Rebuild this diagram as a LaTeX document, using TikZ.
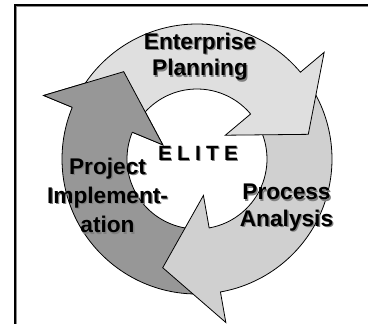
\documentclass[tikz,border=0pt]{standalone}
\usepackage{fontspec}
\setmainfont{Liberation Sans}
\usepackage{tikz}
\usetikzlibrary{positioning}

\definecolor{planfill}{HTML}{DFDFDF}
\definecolor{procfill}{HTML}{D0D0D0}
\definecolor{implfill}{HTML}{979797}

% curved ring arrow: fill, tail angle, head angle
\newcommand{\cyclearrow}[3]{%
  \draw[ringarrow, fill=#1] (#2:135) arc[start angle=#2, end angle=#3, radius=135]
    -- (#3:166) -- ({#3+27.5}:114) -- (#3:37) -- (#3:70)
    arc[start angle=#3, end angle=#2, radius=70] -- cycle;}
% head only, drawn again on top
\newcommand{\cyclehead}[2]{%
  \draw[ringarrow, fill=#1] (#2:135) -- (#2:166) -- ({#2+27.5}:114) -- (#2:37) -- (#2:70);}
\newcommand{\elitename}{E\kern4pt L\kern4pt I\kern4pt T\kern4pt E}

\begin{document}
\begin{tikzpicture}[x=0.75pt,y=0.75pt,yscale=-1,xscale=1,
    ringarrow/.style={draw=black, line width=0.6pt, line join=miter},
    steptext/.style={font=\bfseries\fontsize{17}{20}\selectfont, align=center, anchor=base, inner sep=0pt},
    steptextsh/.style={steptext, text=black!50}]
        \useasboundingbox (0,0) rectangle (368,324);
        
        %Straight Lines [frame]
        \draw [line width=1.5pt] (15,326) -- (15,5) -- (370,5) ;
        \draw [black!45, line width=0.75pt] (16.5,326) -- (16.5,6.5) -- (370,6.5) ;
        
        \begin{scope}[shift={(197,159)}]
        %Shape: Arc arrow [Project Implementation]
        \cyclearrow{implfill}{85}{202.5}
        %Shape: Arc arrow [Process Analysis]
        \cyclearrow{procfill}{325}{440}
        %Shape: Arc arrow [Enterprise Planning]
        \cyclearrow{planfill}{207.5}{320}
        %Shape: Arc arrow head [Project Implementation]
        \cyclehead{implfill}{202.5}
        \end{scope}
        
        % Text Node (base = last line)
        \coordinate (plan-pos) at (200,76);
        \node [steptextsh] (plan-sh) at ([shift={(1.3,1.3)}]plan-pos) {Enterprise\\Planning};
        \node [steptext] (plan) at (plan-pos) {Enterprise\\Planning};
        % Text Node
        \coordinate (proc-pos) at (286.5,226.5);
        \node [steptextsh] (proc-sh) at ([shift={(1.3,1.3)}]proc-pos) {Process\\Analysis};
        \node [steptext] (proc) at (proc-pos) {Process\\Analysis};
        % Text Node
        \coordinate (impl-pos) at (107.5,233);
        \node [steptextsh, font=\bfseries\fontsize{17}{22}\selectfont] (impl-sh) at ([shift={(1.3,1.3)}]impl-pos) {Project\\Implement-\\ation};
        \node [steptext, font=\bfseries\fontsize{17}{22}\selectfont] (impl) at (impl-pos) {Project\\Implement-\\ation};
        % Text Node
        \coordinate (elite-pos) at (198,161);
        \node [steptextsh, font=\bfseries\fontsize{15.5}{18}\selectfont] (elite-sh) at ([shift={(1,1)}]elite-pos) {\elitename};
        \node [steptext, font=\bfseries\fontsize{15.5}{18}\selectfont] (elite) at (elite-pos) {\elitename};
\end{tikzpicture}
\end{document}
